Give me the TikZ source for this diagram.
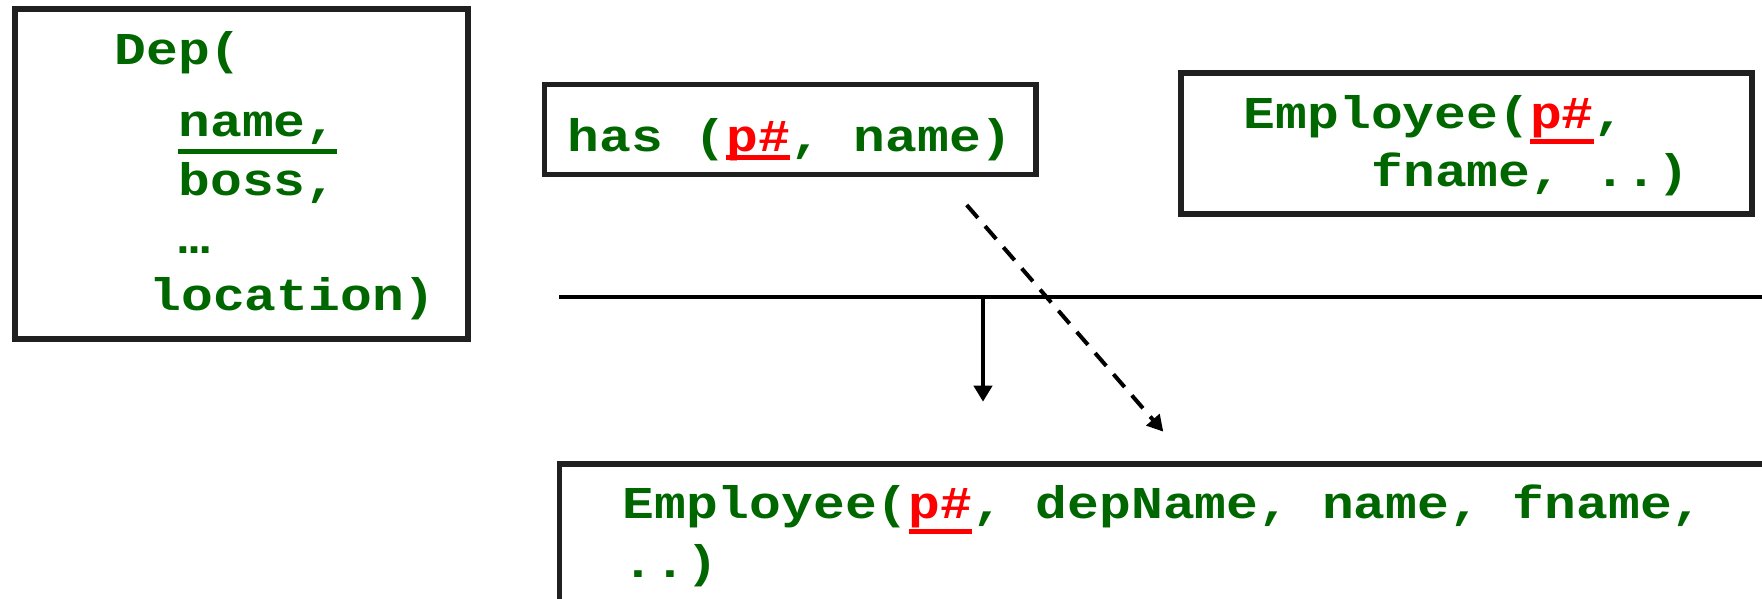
\documentclass[tikz,border=0pt]{standalone}
\usepackage{fontspec}
\usepackage{graphicx}
\setmonofont{Liberation Mono}
\usetikzlibrary{arrows.meta}
\definecolor{tgreen}{RGB}{0,102,0}
\definecolor{tred}{RGB}{255,0,0}
\definecolor{frame}{RGB}{32,32,32}
\newsavebox\ulbox
\newcommand\keyul[3]{\sbox\ulbox{#3}\rlap{\color{#2}\rule[#1]{\wd\ulbox}{2.9pt}}\usebox\ulbox}
\newcommand\pkey[1]{\keyul{#1}{tred}{\textcolor{tred}{p\#}}}
\newcommand\sq[1]{\scalebox{1}[0.86]{#1}}
\begin{document}
\frenchspacing
\begin{tikzpicture}[x=0.5pt,y=-0.5pt,
  box/.style={draw=frame,line width=2.9pt},
  txt/.style={anchor=base west,inner sep=0pt,text=tgreen,font=\ttfamily\bfseries\fontsize{26.5pt}{30pt}\selectfont},
  conn/.style={line width=2pt,draw=black},
]
\useasboundingbox (0,0) rectangle (1762,599);
% Dep box
\draw[box] (15,9) rectangle (468,339);
\node[txt] (dep1) at (114,65) {\sq{Dep(}};
\node[txt] (dep2) at (178,137) {\sq{\keyul{-10pt}{tgreen}{name,}}};
\node[txt] (dep3) at (178,195) {\sq{boss,}};
\node[txt] (dep4) at (178,253) {\sq{…}};
\node[txt] (dep5) at (149,310) {\sq{location)}};
% has box
\draw[box] (544.5,84.5) rectangle (1036,174.5);
\node[txt] (has) at (567,152) {\sq{has (\pkey{-4.9pt}, name)}};
% Employee top-right box
\draw[box] (1181,73) rectangle (1752,214);
\node[txt] (emp1) at (1243.5,128) {\sq{Employee(\pkey{-9.3pt},}};
\node[txt] (emp2) at (1371,186) {\sq{fname, ..)}};
% bottom box (cut by the picture's edges)
\draw[box] (559.5,599) -- (559.5,463.7) -- (1762,463.7);
\node[txt] (new1) at (622,518.3) {\sq{Employee(\pkey{-9.3pt}, depName, name, fname,}};
\node[txt] (new2) at (622,577) {\sq{..)}};
% connectors
\coordinate (hl) at (559,296.5);
\coordinate (hr) at (1762,296.5);
\draw[conn] (hl) -- (hr);
\coordinate (s0) at (983,296.5);
\coordinate (s1) at (983,401.7);
\draw[conn,-{Triangle[length=8pt,width=9pt]}] (s0) -- (s1);
\coordinate (d0) at (966.7,205);
\coordinate (d1) at (1163.3,431.7);
\draw[conn,dash pattern=on 8.5pt off 5.5pt,-{Triangle[length=8pt,width=8.5pt]}] (d0) -- (d1);
\end{tikzpicture}
\end{document}
